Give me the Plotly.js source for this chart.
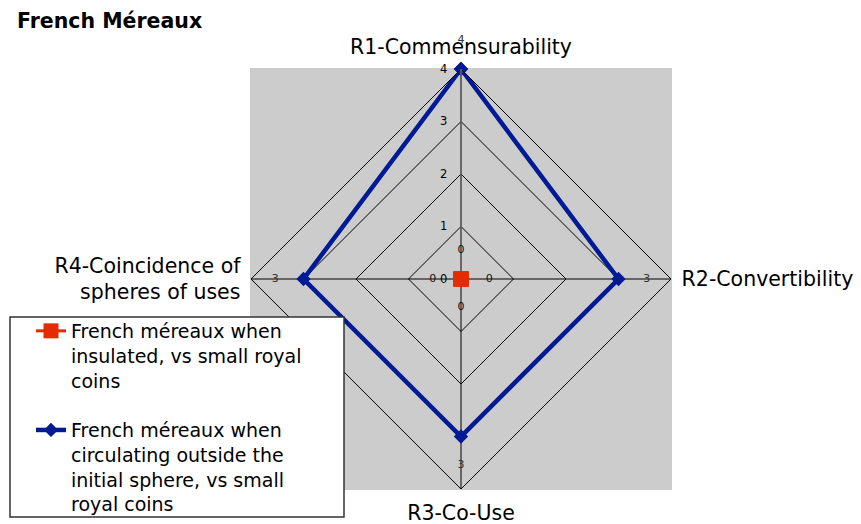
<!DOCTYPE html>
<html>
<head>
<meta charset="utf-8">
<script src="https://cdn.plot.ly/plotly-3.0.1.min.js"></script>
<style>
  html, body { margin: 0; padding: 0; background: #fff; }
  #chart { width: 861px; height: 524px; }
</style>
</head>
<body>
<div id="chart"></div>
<script>
// French méreaux vs small royal coins — four-criteria radar
const categories = ['R1-Commensurability', 'R2-Convertibility', 'R3-Co-Use', 'R4-Coincidence of<br>spheres of uses'];
const insulated = [0, 0, 0, 0];
const circulating = [4, 3, 3, 3];
const insulatedName = 'French méreaux when<br>insulated, vs small royal<br>coins';
const circulatingName = 'French méreaux when<br>circulating outside the<br>initial sphere, vs small<br>royal coins';
const rMax = 4;

const W = 861, H = 524;
const FONT = 'DejaVu Sans, Verdana, sans-serif';
const RED = '#e52b00', BLUE = '#001a96';
const LABEL_PAD = 0.54;           // radial offset of data labels (value units)
const LABEL_MAX = 4.6;            // range of the label overlay

// pixel helpers (margins are zero, so paper == container)
const px = x => x / W;
const py = y => 1 - y / H;

// polar geometry in pixels
const CX = 461, CY = 279, R = 210;
const dom = rad => ({ x: [px(CX - rad), px(CX + rad)], y: [py(CY + rad), py(CY - rad)] });

const closed = a => a.concat(a[0]);
const theta = closed(categories);

const traces = [
  // red series sits at the centre; own subplot with clipping on so the centre point is not hidden
  { type: 'scatterpolar', subplot: 'polar3', r: closed(insulated), theta, mode: 'lines+markers', name: insulatedName,
    legendgroup: 'a', line: { color: RED, width: 3 }, cliponaxis: true,
    marker: { symbol: 'square', size: 15, color: RED }, hoverinfo: 'r+theta' },
  { type: 'scatterpolar', r: closed(circulating), theta, mode: 'lines+markers', name: circulatingName,
    legendgroup: 'b', line: { color: BLUE, width: 4.5 },
    marker: { symbol: 'diamond', size: 11, color: BLUE }, hoverinfo: 'r+theta' },
  // data labels, on an invisible overlay with a wider range so none get clipped
  { type: 'scatterpolar', subplot: 'polar2', r: insulated.map(v => v + LABEL_PAD), theta: categories, mode: 'text',
    text: insulated.map(String), textfont: { family: FONT, size: 11, color: '#111' },
    showlegend: false, hoverinfo: 'skip' },
  { type: 'scatterpolar', subplot: 'polar2', r: circulating.map(v => v + LABEL_PAD), theta: categories, mode: 'text',
    text: circulating.map(String), textfont: { family: FONT, size: 11, color: '#333' },
    showlegend: false, hoverinfo: 'skip' },
];

const hiddenAngular = { type: 'category', categoryarray: categories, rotation: 90, direction: 'clockwise', visible: false };

const layout = {
  width: W, height: H,
  margin: { l: 0, r: 0, t: 0, b: 0, autoexpand: false },
  paper_bgcolor: '#fff',
  font: { family: FONT, color: '#000' },
  title: { text: 'French Méreaux', xref: 'container', yref: 'container', x: px(17), xanchor: 'left',
    y: py(21), yanchor: 'middle', font: { family: FONT, size: 20.5, weight: 'bold', color: '#000' } },
  polar: {
    domain: dom(R),
    bgcolor: 'rgba(0,0,0,0)',
    gridshape: 'linear',
    angularaxis: { type: 'category', categoryarray: categories, rotation: 90, direction: 'clockwise',
      showline: true, linecolor: '#000', linewidth: 1, gridcolor: '#000', gridwidth: 1,
      ticks: 'outside', ticklen: 6, tickcolor: 'rgba(0,0,0,0)',
      tickfont: { family: FONT, size: 20.5, color: '#000' } },
    radialaxis: { range: [0, rMax], dtick: 1, angle: 90, showline: true, linecolor: '#6a6a6a', linewidth: 1.5,
      gridcolor: '#000', gridwidth: 1, ticks: 'outside', ticklen: 9, tickcolor: 'rgba(0,0,0,0)',
      side: 'counterclockwise', tickangle: 90,
      tickfont: { family: FONT, size: 11.5, color: '#000' } },
  },
  polar2: {
    domain: dom(R * LABEL_MAX / rMax),
    bgcolor: 'rgba(0,0,0,0)',
    gridshape: 'linear',
    angularaxis: hiddenAngular,
    radialaxis: { range: [0, LABEL_MAX], visible: false },
  },
  polar3: {
    domain: dom(R),
    bgcolor: 'rgba(0,0,0,0)',
    gridshape: 'linear',
    angularaxis: hiddenAngular,
    radialaxis: { range: [0, rMax], visible: false },
  },
  showlegend: true,
  legend: { x: px(31), xanchor: 'left', y: py(312), yanchor: 'top', bgcolor: 'rgba(0,0,0,0)',
    borderwidth: 0, valign: 'top', tracegroupgap: 22, traceorder: 'grouped',
    font: { family: FONT, size: 19, color: '#000' } },
  shapes: [
    // grey plot area
    { type: 'rect', xref: 'paper', yref: 'paper', x0: px(CX - R - 1), x1: px(CX + R + 1), y0: py(CY + R + 1), y1: py(CY - R - 1),
      fillcolor: '#cccccc', line: { width: 0 }, layer: 'below' },
    // legend box
    { type: 'rect', xref: 'paper', yref: 'paper', x0: px(10), x1: px(344), y0: py(517), y1: py(317),
      fillcolor: '#fff', line: { color: '#333', width: 1.5 }, layer: 'above' },
  ],
};

Plotly.newPlot('chart', traces, layout, { displayModeBar: false, staticPlot: true });
</script>
</body>
</html>
